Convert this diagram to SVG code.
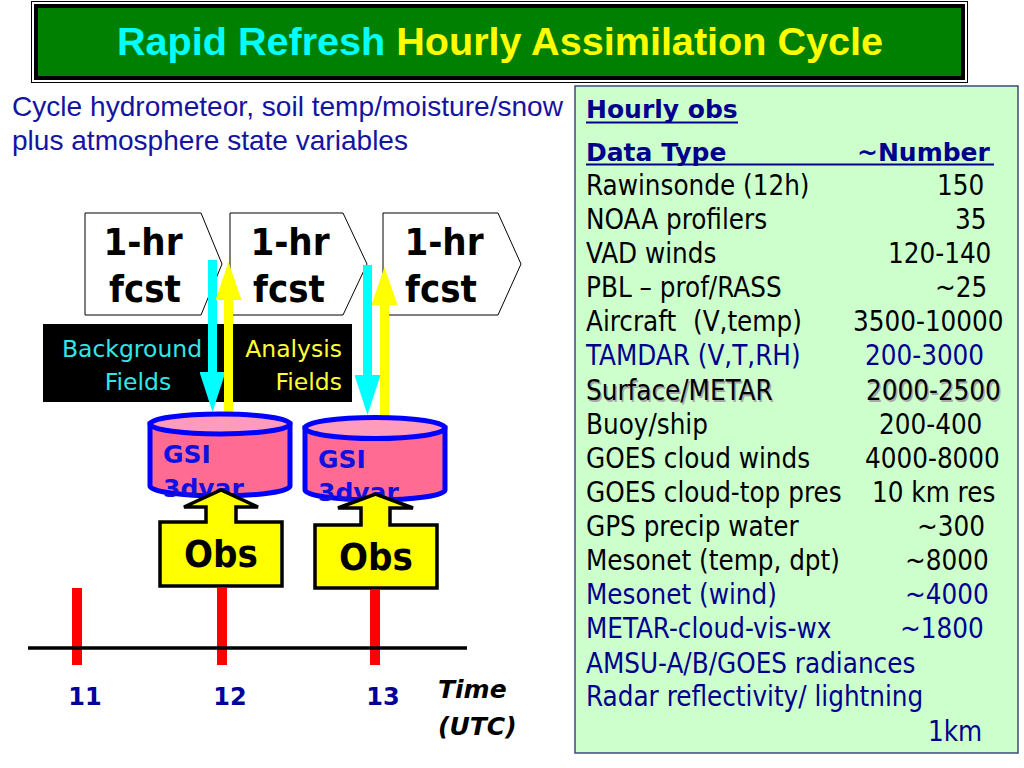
<svg xmlns="http://www.w3.org/2000/svg" width="1024" height="768" viewBox="0 0 1024 768">
<style>
.ttl{font-family:"Liberation Sans",Arial,sans-serif;font-weight:bold;font-size:39px}
.intro{font-family:"Liberation Sans",Arial,sans-serif;font-size:28px;fill:#1414a0}
.pn{font-family:"DejaVu Sans Condensed","DejaVu Sans",sans-serif;font-size:27.5px;fill:#000}
.nv{fill:#00008c}
.hd{font-family:"DejaVu Sans",sans-serif;font-weight:bold;font-size:25px;fill:#00008c}
.big{font-family:"DejaVu Sans Condensed","DejaVu Sans",sans-serif;font-weight:bold;font-size:38px;fill:#000;text-anchor:middle}
.fld{font-family:"DejaVu Sans",sans-serif;font-size:23.5px}
.gsi{font-family:"DejaVu Sans",sans-serif;font-weight:bold;font-size:25px;fill:#1010e0}
.fc{fill:#fff;stroke:#000;stroke-width:1}
.cylb{fill:#ff6b93;stroke:#0000ff;stroke-width:5}
.cylt{fill:#ff9cbe;stroke:#0000ff;stroke-width:5}
.obs{fill:#ffff00;stroke:#000;stroke-width:3.5;stroke-linejoin:miter}
.tick{fill:#ff0000}
.hr{font-family:"DejaVu Sans",sans-serif;font-weight:bold;font-size:24px;fill:#000099;text-anchor:middle}
.tm{font-family:"DejaVu Sans",sans-serif;font-weight:bold;font-style:italic;font-size:25px;fill:#000}
</style>
<defs>
<marker id="hc" viewBox="0 0 40 26" markerWidth="40" markerHeight="26" refX="0" refY="13" orient="auto" markerUnits="userSpaceOnUse"><path d="M0,0 L40,13 L0,26 Z" fill="#00ffff"/></marker>
<marker id="hy" viewBox="0 0 38 26" markerWidth="38" markerHeight="26" refX="0" refY="13" orient="auto" markerUnits="userSpaceOnUse"><path d="M0,0 L38,13 L0,26 Z" fill="#ffff00"/></marker>
</defs>
<rect width="1024" height="768" fill="#fff"/>

<g id="title">
<rect x="31.5" y="1.5" width="936" height="81" fill="#fff" stroke="#000" stroke-width="1"/>
<rect x="34" y="4" width="931" height="76" fill="#000"/>
<rect x="38" y="8" width="923" height="68" fill="#008000"/>
<text class="ttl" x="117" y="55" textLength="766" lengthAdjust="spacingAndGlyphs"><tspan fill="#00ffff">Rapid Refresh </tspan><tspan fill="#ffff00">Hourly Assimilation Cycle</tspan></text>
</g>

<g id="intro">
<text class="intro" x="12" y="116" textLength="551" lengthAdjust="spacingAndGlyphs">Cycle hydrometeor, soil temp/moisture/snow</text>
<text class="intro" x="12" y="150" textLength="396" lengthAdjust="spacingAndGlyphs">plus atmosphere state variables</text>
</g>

<g id="obs-panel">
<rect x="575" y="86" width="443" height="667" fill="#ccffcc" stroke="#3c4a7a" stroke-width="1.5"/>
<text class="hd" x="586" y="118">Hourly obs</text>
<rect x="586" y="121.5" width="152" height="2" fill="#00008c"/>
<text class="hd" x="586" y="161">Data Type</text>
<text class="hd" x="857" y="161">~Number</text>
<rect x="586" y="163.5" width="408" height="2" fill="#00008c"/>
<g class="pn">
<text x="586" y="195">Rawinsonde (12h)</text><text x="937" y="195">150</text>
<text x="586" y="229">NOAA profilers</text><text x="955" y="229">35</text>
<text x="586" y="263">VAD winds</text><text x="888" y="263">120-140</text>
<text x="586" y="297">PBL – prof/RASS</text><text x="935" y="297">~25</text>
<text x="586" y="331">Aircraft<tspan x="693">(V,temp)</tspan></text><text x="853" y="331">3500-10000</text>
<text class="nv" x="586" y="365">TAMDAR (V,T,RH)</text><text class="nv" x="865" y="365">200-3000</text>
<text x="587.5" y="401.5" fill="#a8a8a8">Surface/METAR</text><text x="867.5" y="401.5" fill="#a8a8a8">2000-2500</text>
<text x="586" y="400">Surface/METAR</text><text x="866" y="400">2000-2500</text>
<text x="586" y="434">Buoy/ship</text><text x="879" y="434">200-400</text>
<text x="586" y="468">GOES cloud winds</text><text x="865" y="468">4000-8000</text>
<text x="586" y="502">GOES cloud-top pres</text><text x="872" y="502">10 km res</text>
<text x="586" y="536">GPS precip water</text><text x="917" y="536">~300</text>
<text x="586" y="570">Mesonet (temp, dpt)</text><text x="905" y="570">~8000</text>
<text class="nv" x="586" y="604">Mesonet (wind)</text><text class="nv" x="905" y="604">~4000</text>
<text class="nv" x="586" y="638">METAR-cloud-vis-wx</text><text class="nv" x="900" y="638">~1800</text>
<text class="nv" x="586" y="673">AMSU-A/B/GOES radiances</text>
<text class="nv" x="586" y="706">Radar reflectivity/ lightning</text>
<text class="nv" x="928" y="741">1km</text>
</g>
</g>

<g id="fcst1">
<path class="fc" d="M85,213 H201 L222,264 L201,315 H85 Z"/>
<text class="big" x="143" y="255">1-hr</text>
<text class="big" x="145" y="302">fcst</text>
</g>
<g id="fcst2">
<path class="fc" d="M230,213 H343 L367,264 L343,315 H230 Z"/>
<text class="big" x="290" y="255">1-hr</text>
<text class="big" x="289" y="302">fcst</text>
</g>
<g id="fcst3">
<path class="fc" d="M383,213 H498 L521,264 L498,315 H383 Z"/>
<text class="big" x="444" y="255">1-hr</text>
<text class="big" x="441" y="302">fcst</text>
</g>

<g id="fields">
<rect x="43" y="324" width="309" height="78" fill="#000"/>
<text class="fld" x="132" y="357" fill="#33e6e6" text-anchor="middle">Background</text>
<text class="fld" x="138" y="390" fill="#33e6e6" text-anchor="middle">Fields</text>
<text class="fld" x="342" y="357" fill="#ffff33" text-anchor="end">Analysis</text>
<text class="fld" x="342" y="390" fill="#ffff33" text-anchor="end">Fields</text>
</g>

<g id="connectors">
<line x1="212.5" y1="260" x2="212.5" y2="372" stroke="#00ffff" stroke-width="9" marker-end="url(#hc)"/>
<line x1="228.5" y1="413" x2="228.5" y2="300" stroke="#ffff00" stroke-width="9" marker-end="url(#hy)"/>
<line x1="367.5" y1="265" x2="367.5" y2="375" stroke="#00ffff" stroke-width="9" marker-end="url(#hc)"/>
<line x1="384.5" y1="418" x2="384.5" y2="305" stroke="#ffff00" stroke-width="9" marker-end="url(#hy)"/>
</g>

<g id="gsi1">
<path class="cylb" d="M150,424 V486 A70,10 0 0 0 290,486 V424 Z"/>
<ellipse class="cylt" cx="220" cy="424" rx="70" ry="10"/>
<text class="gsi" x="163" y="463">GSI</text>
<text class="gsi" x="163" y="497">3dvar</text>
</g>
<g id="gsi2">
<path class="cylb" d="M305,428 V490 A70,10 0 0 0 445,490 V428 Z"/>
<ellipse class="cylt" cx="375" cy="428" rx="70" ry="10.5"/>
<text class="gsi" x="318" y="468">GSI</text>
<text class="gsi" x="318" y="501">3dvar</text>
</g>

<g id="obs1">
<path class="obs" d="M160,522 H206 V507 H184 L221,490 L258,507 H236 V522 H282 V586 H160 Z"/>
<text class="big" x="221" y="567">Obs</text>
</g>
<g id="obs2">
<path class="obs" d="M315,525 H361 V508 H338 L375.5,494 L413,508 H390 V525 H437 V588 H315 Z"/>
<text class="big" x="376" y="570">Obs</text>
</g>

<g id="timeline">
<rect class="tick" x="72" y="588" width="10" height="77"/>
<rect class="tick" x="217" y="588" width="10" height="77"/>
<rect class="tick" x="370" y="590" width="10" height="75"/>
<line x1="28" y1="648" x2="467" y2="648" stroke="#000" stroke-width="3.5"/>
<text class="hr" x="85" y="705">11</text>
<text class="hr" x="230" y="705">12</text>
<text class="hr" x="383" y="705">13</text>
<text class="tm" x="438" y="698">Time</text>
<text class="tm" x="438" y="735">(UTC)</text>
</g>
</svg>
